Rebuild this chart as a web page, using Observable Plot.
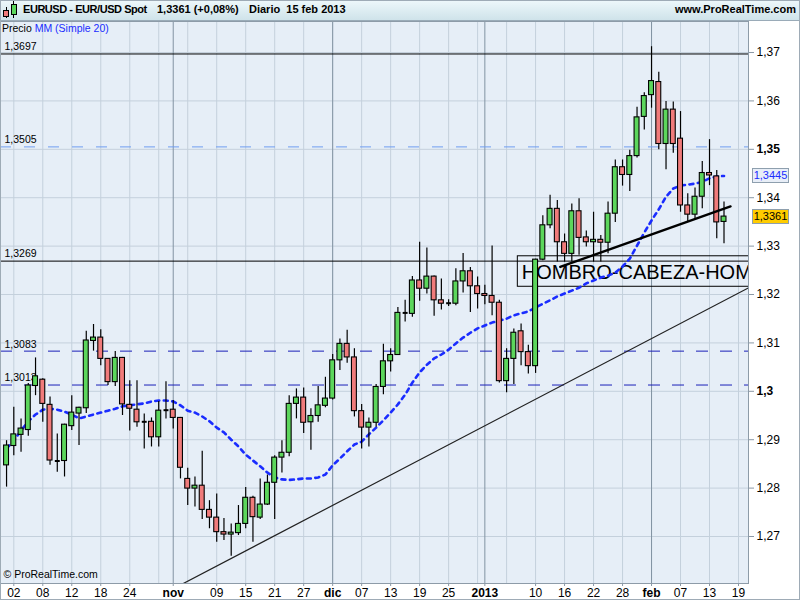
<!DOCTYPE html>
<html>
<head>
<meta charset="utf-8">
<script src="https://cdn.jsdelivr.net/npm/d3@7"></script>
<script src="https://cdn.jsdelivr.net/npm/@observablehq/plot@0.6"></script>
<style>
  body { margin: 0; background: #fff; }
  #wrap { position: relative; width: 800px; height: 600px; overflow: hidden; font-family: Arial, "Liberation Sans", sans-serif; }
  #wrap svg { display: block; }
  #hdr { position: absolute; left: 0; top: 0; width: 800px; height: 21px; box-sizing: border-box;
         background: linear-gradient(#eef8fb, #cfe3ea); border-bottom: 1px solid #9aabb8; }
  #hdr span { position: absolute; top: 3px; font-size: 11px; font-weight: bold; color: #000; white-space: pre; }
  #ind { position: absolute; left: 2px; top: 22px; font-size: 10.5px; color: #000; white-space: pre; }
  .vbox { position: absolute; left: 752px; width: 37px; height: 15px; box-sizing: border-box; border: 1px solid #8e9fae;
          font-size: 11px; line-height: 13px; text-align: center; }
  #border { position: absolute; left: 0; top: 0; width: 800px; height: 600px; box-sizing: border-box; border: 1px solid #9eabb6; pointer-events: none; }
</style>
</head>
<body>
<div id="wrap">
  <div id="chart"></div>
  <div id="hdr">
    <svg width="20" height="20" style="position:absolute;left:0;top:0">
      <line x1="6.5" y1="7" x2="6.5" y2="18" stroke="#000"/>
      <rect x="3.5" y="10.5" width="5" height="6" fill="#f07b7b" stroke="#000"/>
      <line x1="13.5" y1="1" x2="13.5" y2="18" stroke="#000"/>
      <rect x="11.5" y="4.5" width="5" height="10" fill="#5cd65c" stroke="#000"/>
    </svg>
    <span id="h1" style="left:23px;letter-spacing:-0.45px"></span>
    <span id="h2" style="left:157px"></span>
    <span id="h3" style="left:249px"></span>
    <span id="h4" style="right:4px"></span>
  </div>
  <div id="ind"></div>
  <div id="border"></div>
</div>
<script>
// ---------- data ----------
const headerTitle = "EURUSD - EUR/USD Spot";
const headerPrice = "1,3361 (+0,08%)";
const headerPeriod = "Diario  15 feb 2013";
const headerSite = "www.ProRealTime.com";
const indicatorName = "Precio";
const indicatorMA = "MM (Simple 20)";
const copyright = "© ProRealTime.com";
const patternText = "HOMBRO-CABEZA-HOMBRO";

// trading-day index (0 = 02 oct 2012)
const dayIdx = d3.range(-1, 99);
const open = [
  1.2847,1.2887,1.2910,1.2920,1.3011,1.3024,1.2972,1.2856,1.2856,1.2928,
  1.2954,1.2965,1.3104,1.3111,1.3067,1.3019,1.3069,1.2972,1.2962,1.2937,
  1.2937,1.2905,1.2961,1.2962,1.2945,1.2819,1.2799,1.2805,1.2755,1.2739,
  1.2709,1.2704,1.2707,1.2726,1.2780,1.2739,1.2766,1.2811,1.2863,1.2873,
  1.2974,1.2987,1.2936,1.2949,1.2970,1.2985,1.3064,1.3098,1.3070,1.2959,
  1.2925,1.2935,1.3009,1.3062,1.3075,1.3162,1.3160,1.3229,1.3212,1.3237,
  1.3188,1.3182,1.3181,1.3227,1.3248,1.3217,1.3201,1.3197,1.3183,1.3021,
  1.3067,1.3124,1.3081,1.3052,1.3272,1.3343,1.3377,1.3308,1.3284,1.3372,
  1.3318,1.3308,1.3313,1.3307,1.3367,1.3463,1.3447,1.3486,1.3567,1.3612,
  1.3639,1.3511,1.3582,1.3522,1.3384,1.3365,1.3402,1.3451,1.3444,1.3350];
const high = [
  1.2898,1.2967,1.2943,1.3016,1.3069,1.3026,1.2988,1.2912,1.2932,1.2991,
  1.2967,1.3124,1.3138,1.3127,1.3068,1.3082,1.3070,1.3022,1.3022,1.2953,
  1.2945,1.2979,1.3020,1.2981,1.2946,1.2841,1.2823,1.2876,1.2774,1.2788,
  1.2737,1.2726,1.2764,1.2801,1.2783,1.2819,1.2827,1.2867,1.2898,1.2991,
  1.3005,1.3007,1.2964,1.3010,1.3029,1.3076,1.3108,1.3126,1.3088,1.2973,
  1.2945,1.3014,1.3097,1.3088,1.3173,1.3188,1.3237,1.3308,1.3296,1.3238,
  1.3232,1.3189,1.3253,1.3285,1.3256,1.3236,1.3219,1.3300,1.3188,1.3088,
  1.3129,1.3139,1.3095,1.3273,1.3363,1.3405,1.3394,1.3325,1.3387,1.3398,
  1.3331,1.3370,1.3322,1.3391,1.3478,1.3478,1.3498,1.3587,1.3617,1.3712,
  1.3659,1.3599,1.3598,1.3578,1.3408,1.3420,1.3475,1.3520,1.3456,1.3391];
const low = [
  1.2802,1.2867,1.2874,1.2907,1.2991,1.2936,1.2847,1.2833,1.2823,1.2919,
  1.2888,1.2954,1.3083,1.3053,1.3012,1.3010,1.2950,1.2918,1.2926,1.2881,
  1.2885,1.2885,1.2943,1.2922,1.2819,1.2764,1.2761,1.2735,1.2716,1.2688,
  1.2692,1.2659,1.2702,1.2716,1.2688,1.2735,1.2764,1.2735,1.2831,1.2865,
  1.2943,1.2913,1.2878,1.2936,1.2966,1.2982,1.3043,1.3058,1.2947,1.2881,
  1.2885,1.2926,1.2993,1.3040,1.3074,1.3143,1.3153,1.3186,1.3201,1.3155,
  1.3168,1.3175,1.3177,1.3203,1.3163,1.3170,1.3179,1.3156,1.3017,1.2997,
  1.3014,1.3053,1.3036,1.3037,1.3270,1.3336,1.3267,1.3267,1.3267,1.3281,
  1.3298,1.3267,1.3267,1.3284,1.3349,1.3424,1.3413,1.3482,1.3540,1.3585,
  1.3499,1.3458,1.3492,1.3370,1.3351,1.3353,1.3377,1.3425,1.3315,1.3305];
const close = [
  1.2888,1.2911,1.2923,1.3012,1.3031,1.2974,1.2857,1.2856,1.2931,1.2956,
  1.2966,1.3105,1.3111,1.3067,1.3019,1.3069,1.2973,1.2964,1.2936,1.2937,
  1.2905,1.2960,1.2961,1.2945,1.2842,1.2799,1.2805,1.2755,1.2739,1.2709,
  1.2704,1.2708,1.2726,1.2780,1.2740,1.2766,1.2811,1.2863,1.2873,1.2974,
  1.2987,1.2935,1.2949,1.2971,1.2985,1.3064,1.3098,1.3070,1.2959,1.2925,
  1.2935,1.3009,1.3062,1.3075,1.3162,1.3162,1.3229,1.3212,1.3237,1.3188,
  1.3181,1.3182,1.3227,1.3248,1.3217,1.3201,1.3197,1.3183,1.3021,1.3067,
  1.3121,1.3081,1.3052,1.3272,1.3343,1.3377,1.3308,1.3284,1.3372,1.3317,
  1.3308,1.3313,1.3307,1.3367,1.3463,1.3447,1.3486,1.3566,1.3610,1.3641,
  1.3511,1.3582,1.3511,1.3384,1.3365,1.3402,1.3451,1.3446,1.3349,1.3361];
// moving average
const ma20 = [
  1.2882,1.2898,1.2919,1.2938,1.2952,1.2962,1.2964,1.2962,1.2958,1.2952,
  1.2944,1.2948,1.2952,1.2956,1.2960,1.2964,1.2969,1.2971,1.2973,1.2975,
  1.2979,1.2981,1.2981,1.2979,1.2971,1.2960,1.2956,1.2948,1.2938,1.2925,
  1.2915,1.2900,1.2886,1.2869,1.2857,1.2845,1.2832,1.2822,1.2818,1.2817,
  1.2818,1.2820,1.2820,1.2822,1.2828,1.2847,1.2861,1.2876,1.2890,1.2896,
  1.2911,1.2925,1.2940,1.2956,1.2973,1.2993,1.3018,1.3039,1.3055,1.3068,
  1.3076,1.3086,1.3099,1.3111,1.3121,1.3130,1.3136,1.3142,1.3146,1.3150,
  1.3157,1.3161,1.3165,1.3173,1.3181,1.3188,1.3196,1.3202,1.3208,1.3214,
  1.3223,1.3229,1.3235,1.3239,1.3245,1.3258,1.3274,1.3301,1.3328,1.3353,
  1.3376,1.3402,1.3419,1.3425,1.3427,1.3429,1.3433,1.3440,1.3444,1.3445];

const lastMA = 1.3445;
const lastClose = 1.3361;

// horizontal levels
const solidLevels = [1.3697, 1.3269];
const lightDashLevels = [1.3505];
const darkDashLevels = [1.3083, 1.3013];
const levelVals = [1.3697, 1.3505, 1.3269, 1.3083, 1.3013];

// trend lines
const supportIdx = [22, 101.4];
const supportVal = [1.2592, 1.3214];
const necklineIdx = [75.4, 98.9];
const necklineVal = [1.3257, 1.3382];

// pattern box
const patternIdx = [69.55, 104];
const patternVal = [1.3216, 1.3279];

// axes
const yTicks = [1.27, 1.28, 1.29, 1.30, 1.31, 1.32, 1.33, 1.34, 1.35, 1.36, 1.37];
const yBold = [1.30, 1.35];
const xLabelIdx = [0, 4, 8, 12, 16, 22, 28, 32, 36, 40, 44, 48, 52, 56, 60, 65, 72, 76, 80, 84, 88, 92, 96, 100];
const xLabels = ["02","08","12","18","24","nov","09","15","21","27","dic","07","13","19","25","2013","10","16","22","28","feb","07","13","19"];
const monthIdx = [22, 44, 65, 88];
const gridIdx = d3.range(0, 101, 4);

// ---------- build ----------
const fmtLevel = v => v.toFixed(4).replace(".", ",");
const fmtTick = v => String(+v.toFixed(2)).replace(".", ",");
const labelOf = new Map(xLabelIdx.map((d, i) => [d, xLabels[i]]));
const boldIdx = xLabelIdx.filter(d => monthIdx.includes(d));
const normIdx = xLabelIdx.filter(d => !monthIdx.includes(d));

const candles = dayIdx.map((d, i) => ({d, o: open[i], h: high[i], l: low[i], c: close[i]}));
const ups = candles.filter(k => k.c - k.o > 0.00005);
const downs = candles.filter(k => k.o - k.c > 0.00005);
const dojis = candles.filter(k => Math.abs(k.c - k.o) <= 0.00005);
const maData = dayIdx.map((d, i) => ({d, v: ma20[i]}));
const support = supportIdx.map((d, i) => ({d, v: supportVal[i]}));
const neckline = necklineIdx.map((d, i) => ({d, v: necklineVal[i]}));

const GREEN = "#5cd65c", RED = "#f07b7b", HW = 0.34;
const axisCommon = {label: null, stroke: "#8a98a6", fill: "#000", fontSize: 12};

const plot = Plot.plot({
  width: 800, height: 600,
  marginTop: 21, marginBottom: 17, marginLeft: 0, marginRight: 52,
  x: {type: "linear", domain: [-1.835, 101.38], label: null},
  y: {type: "linear", domain: [1.26029, 1.37641], label: null},
  style: {background: "#fff", fontFamily: "Arial, 'Liberation Sans', sans-serif", color: "#000"},
  marks: [
    Plot.frame({fill: "#e6eef7"}),
    Plot.ruleY(yTicks, {stroke: "#c4d0dc"}),
    Plot.ruleX(gridIdx, {stroke: "#c4d0dc"}),
    Plot.ruleX(monthIdx, {stroke: "#8393a3"}),
    // right axis
    Plot.axisY(yTicks.filter(v => !yBold.includes(v)), {...axisCommon, anchor: "right", tickSize: 5, tickPadding: 3, tickFormat: fmtTick}),
    Plot.axisY(yBold, {...axisCommon, anchor: "right", tickSize: 5, tickPadding: 3, tickFormat: fmtTick, fontWeight: "bold"}),
    // bottom axis
    Plot.axisX(normIdx, {...axisCommon, anchor: "bottom", tickSize: 3, tickPadding: 2, tickFormat: d => labelOf.get(d)}),
    Plot.axisX(boldIdx, {...axisCommon, anchor: "bottom", tickSize: 3, tickPadding: 2, tickFormat: d => labelOf.get(d), fontWeight: "bold"}),
    // levels
    Plot.text(levelVals, {y: d => d, frameAnchor: "left", dx: 4, dy: -7, text: fmtLevel, textAnchor: "start", fontSize: 10.5, fill: "#000"}),
    Plot.ruleY(solidLevels, {stroke: "#000", strokeWidth: 1}),
    Plot.ruleY(lightDashLevels, {stroke: "#6e9cf0", strokeWidth: 1, strokeDasharray: "11 13"}),
    Plot.ruleY(darkDashLevels, {stroke: "#1a1fb8", strokeWidth: 1, strokeDasharray: "12 12"}),
    // support line
    Plot.line(support, {x: "d", y: "v", stroke: "#222", strokeWidth: 1.2, clip: true}),
    // pattern box
    Plot.rect([0], {x1: patternIdx[0], x2: patternIdx[1], y1: patternVal[0], y2: patternVal[1], fill: "none", stroke: "#000", strokeWidth: 1, clip: true}),
    Plot.text([patternText], {x: patternIdx[0], y: (patternVal[0] + patternVal[1]) / 2, text: d => d, textAnchor: "start", dx: 4, dy: 1, fontSize: 20, fill: "#000", clip: true}),
    // moving average
    Plot.line(maData, {x: "d", y: "v", stroke: "#1a2cff", strokeWidth: 2.6, strokeDasharray: "4 4.5", clip: true}),
    // candles
    Plot.ruleX(candles, {x: "d", y1: "l", y2: "h", stroke: "#000", strokeWidth: 1.2, clip: true}),
    Plot.rect(ups, {x1: k => k.d - HW, x2: k => k.d + HW, y1: "o", y2: "c", fill: GREEN, stroke: "#000", strokeWidth: 1.1, clip: true}),
    Plot.rect(downs, {x1: k => k.d - HW, x2: k => k.d + HW, y1: "o", y2: "c", fill: RED, stroke: "#000", strokeWidth: 1.1, clip: true}),
    Plot.link(dojis, {x1: k => k.d - HW, x2: k => k.d + HW, y1: "o", y2: "o", stroke: "#000", strokeWidth: 2}),
    // neckline
    Plot.line(neckline, {x: "d", y: "v", stroke: "#000", strokeWidth: 2.4}),
    Plot.text([copyright], {frameAnchor: "bottom-left", text: d => d, dx: 3, dy: -6, textAnchor: "start", fontSize: 10.5, fill: "#000"}),
    Plot.frame({stroke: "#8d9ba8"})
  ]
});

document.getElementById("chart").appendChild(plot);

// background gradient for the plotting area
const svg = d3.select(plot);
svg.insert("defs", ":first-child").html(
  '<linearGradient id="bgGrad" x1="0" y1="0" x2="0" y2="1">' +
  '<stop offset="0" stop-color="#f6f9fd"/><stop offset="1" stop-color="#d7e4f2"/></linearGradient>');
svg.select('g[aria-label="frame"] rect').attr("fill", "url(#bgGrad)");
svg.select('g[aria-label="frame"]').attr("fill", "url(#bgGrad)");

// header & overlays
document.getElementById("h1").textContent = headerTitle;
document.getElementById("h2").textContent = headerPrice;
document.getElementById("h3").textContent = headerPeriod;
document.getElementById("h4").textContent = headerSite;
document.getElementById("ind").innerHTML = indicatorName + ' <span style="color:#1a2cff">' + indicatorMA + '</span>';

const ys = plot.scale("y");
const wrap = document.getElementById("wrap");
function valueBox(v, bg, fg) {
  const b = document.createElement("div");
  b.className = "vbox";
  b.style.top = (ys.apply(v) - 7.5) + "px";
  b.style.background = bg;
  b.style.color = fg;
  b.textContent = fmtLevel(v);
  wrap.appendChild(b);
}
valueBox(lastMA, "#e8eef7", "#1a2cff");
valueBox(lastClose, "#ffcc00", "#000");
</script>
</body>
</html>
